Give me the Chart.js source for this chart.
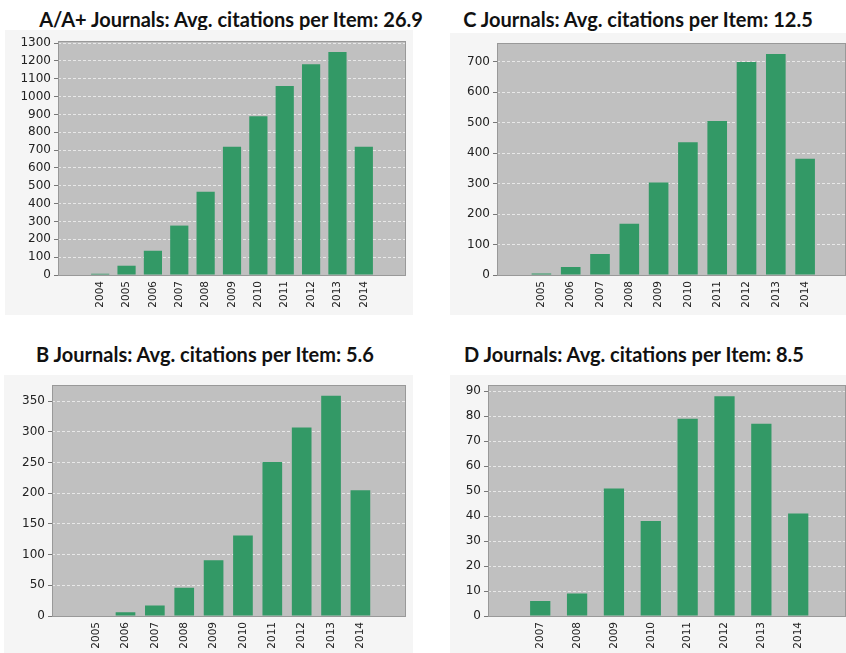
<!DOCTYPE html>
<html>
<head>
<meta charset="utf-8">
<script src="https://cdn.jsdelivr.net/npm/chart.js@4/dist/chart.umd.min.js"></script>
<style>
  body { margin: 0; background: #fff; width: 846px; height: 653px; overflow: hidden; position: relative; }
  .title { position: absolute; width: 500px; text-align: center; font-family: Lato, "Open Sans", sans-serif; font-weight: bold; font-size: 20px; line-height: 20px; color: #111; white-space: nowrap; }
  canvas { position: absolute; background: #f5f5f5; }
</style>
</head>
<body>
<div class="title" id="tA" style="left:-19px; top:9px;"></div>
<div class="title" id="tC" style="left:388px; top:9px;"></div>
<div class="title" id="tB" style="left:-45px; top:344px;"></div>
<div class="title" id="tD" style="left:384px; top:344px;"></div>
<canvas id="cA" width="408" height="285" style="left:5px; top:30px;"></canvas>
<canvas id="cC" width="396" height="282" style="left:450px; top:33px;"></canvas>
<canvas id="cB" width="409" height="278" style="left:4px; top:375px;"></canvas>
<canvas id="cD" width="396" height="278" style="left:450px; top:375px;"></canvas>
<script>
// titulos
const titles = [
    "A/A+ Journals: Avg. citations per Item: 26.9",
    "C Journals: Avg. citations per Item: 12.5",
    "B Journals: Avg. citations per Item: 5.6",
    "D Journals: Avg. citations per Item: 8.5"
];

// citacoes por ano
const aYears = [2004, 2005, 2006, 2007, 2008, 2009, 2010, 2011, 2012, 2013, 2014];
const aCitations = [7, 52, 136, 277, 467, 719, 890, 1060, 1181, 1250, 719];

const cYears = [2005, 2006, 2007, 2008, 2009, 2010, 2011, 2012, 2013, 2014];
const cCitations = [5, 26, 69, 168, 303, 435, 505, 698, 725, 381];

const bYears = [2005, 2006, 2007, 2008, 2009, 2010, 2011, 2012, 2013, 2014];
const bCitations = [0, 6, 17, 46, 91, 131, 251, 307, 359, 205];

const dYears = [2007, 2008, 2009, 2010, 2011, 2012, 2013, 2014];
const dCitations = [6, 9, 51, 38, 79, 88, 77, 41];

["tA", "tC", "tB", "tD"].forEach((id, i) => {
    document.getElementById(id).textContent = titles[i];
});

// fundo cinza da area do grafico + contorno
const plotArea = {
    id: "plotArea",
    beforeDraw(chart) {
        const { ctx, chartArea: a } = chart;
        ctx.save();
        ctx.fillStyle = "#c0c0c0";
        ctx.fillRect(a.left, a.top, a.right - a.left, a.bottom - a.top);
        ctx.restore();
    },
    afterDraw(chart) {
        const { ctx, chartArea: a } = chart;
        ctx.save();
        ctx.strokeStyle = "#999";
        ctx.lineWidth = 1;
        ctx.strokeRect(Math.round(a.left) + 0.5, Math.round(a.top) + 0.5,
            Math.round(a.right - a.left) - 1, Math.round(a.bottom - a.top));
        ctx.restore();
    }
};

function makeChart(id, years, values, o) {
    return new Chart(document.getElementById(id), {
        type: "bar",
        plugins: [plotArea],
        data: {
            datasets: [{
                data: years.map((y, i) => ({ x: y, y: values[i] })),
                backgroundColor: "#339966",
                borderWidth: 0,
                categoryPercentage: 1,
                barPercentage: o.barPct
            }]
        },
        options: {
            responsive: false,
            animation: false,
            layout: { padding: { left: 0, top: o.padTop, right: o.padRight, bottom: 0 } },
            plugins: { legend: { display: false }, tooltip: { enabled: false } },
            scales: {
                x: {
                    type: "linear",
                    min: o.xMin,
                    max: o.xMax,
                    afterBuildTicks: s => { s.ticks = years.map(v => ({ value: v })); },
                    afterFit: s => { s.height = o.xHeight; },
                    grid: { display: false, drawTicks: false },
                    border: { display: false },
                    ticks: {
                        autoSkip: false,
                        minRotation: 90,
                        maxRotation: 90,
                        padding: 6,
                        color: "#222",
                        font: { family: "DejaVu Sans", size: 10.5 },
                        callback: v => String(v)
                    }
                },
                y: {
                    min: 0,
                    max: o.yMax,
                    afterFit: s => { s.width = o.yWidth; },
                    grid: {
                        color: c => c.tick && c.tick.value === 0 ? "transparent" : "#e8e8e8",
                        tickColor: "#777",
                        tickLength: 4,
                        tickBorderDash: []
                    },
                    border: { display: false, dash: [3, 2] },
                    ticks: {
                        stepSize: o.yStep,
                        maxTicksLimit: 20,
                        includeBounds: false,
                        padding: 3,
                        color: "#222",
                        font: { family: "DejaVu Sans", size: 12 },
                        callback: v => String(v)
                    }
                }
            }
        }
    });
}

makeChart("cA", aYears, aCitations, { xMin: 2003, xMax: 2015, yMax: 1312, yStep: 100, barPct: 0.69, yWidth: 53, padTop: 11, padRight: 7, xHeight: 40 });
makeChart("cC", cYears, cCitations, { xMin: 2004.08, xMax: 2014.8, yMax: 760, yStep: 100, barPct: 0.67, yWidth: 47, padTop: 8, padRight: 0, xHeight: 40 });
makeChart("cB", bYears, bCitations, { xMin: 2004.1, xMax: 2014.95, yMax: 376, yStep: 50, barPct: 0.67, yWidth: 48, padTop: 7, padRight: 7, xHeight: 37 });
makeChart("cD", dYears, dCitations, { xMin: 2006.19, xMax: 2014.69, yMax: 92.4, yStep: 10, barPct: 0.55, yWidth: 38, padTop: 7, padRight: 0, xHeight: 37 });
</script>
</body>
</html>
